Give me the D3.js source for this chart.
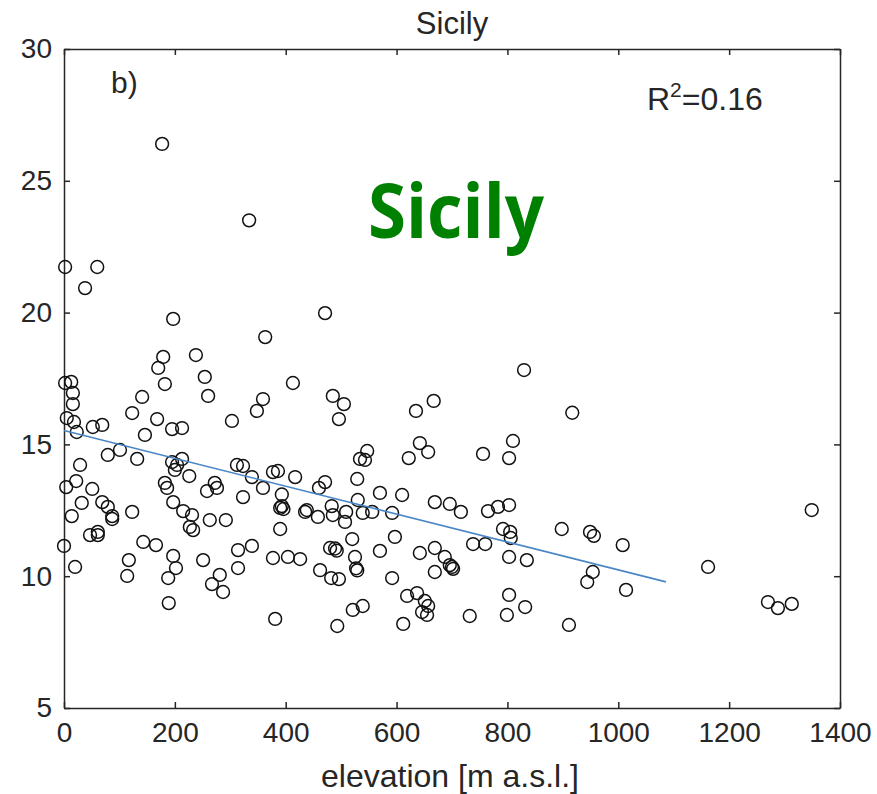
<!DOCTYPE html>
<html>
<head>
<meta charset="utf-8">
<script src="https://cdn.jsdelivr.net/npm/d3@7"></script>
<style>
  body { margin: 0; background: #fff; }
  text { font-family: "Liberation Sans", Arial, sans-serif; fill: #262626; }
</style>
</head>
<body>
<script>
const elevation = [
  2, 60, 38, 197, 179, 170, 238, 254, 260, 182, 2, 13, 16, 16, 141, 123, 168, 195, 213, 303,
  5, 18, 23, 52, 69, 146, 177, 334, 471, 363, 413, 359, 348, 485, 505, 496, 635, 667, 642, 657,
  622, 547, 534, 543, 323, 339, 377, 386, 417, 471, 460, 529, 359, 323, 393, 570, 610, 101, 79, 132,
  29, 22, 4, 51, 32, 69, 79, 87, 87, 14, 123, 47, 61, 61, 0, 20, 143, 166, 117, 114,
  197, 202, 188, 251, 189, 195, 204, 200, 213, 226, 182, 186, 197, 215, 231, 227, 233, 263, 292, 258,
  272, 276, 312, 314, 339, 314, 281, 267, 287, 390, 393, 396, 435, 438, 458, 483, 485, 509, 507, 530,
  539, 556, 592, 669, 390, 520, 597, 480, 489, 492, 570, 642, 669, 377, 404, 426, 525, 527, 529, 462,
  482, 496, 592, 669, 619, 637, 651, 657, 646, 655, 521, 539, 381, 493, 612, 810, 756, 803, 696, 716,
  765, 783, 803, 792, 805, 806, 898, 949, 956, 738, 760, 687, 696, 700, 702, 803, 835, 1008, 954, 944,
  1014, 803, 832, 799, 732, 911, 1349, 1162, 1270, 1288, 1313, 830, 917
];
const values = [
  21.73, 21.73, 20.93, 19.76, 18.32, 17.9, 18.39, 17.56, 16.84, 17.29, 17.33, 17.37, 16.95, 16.53, 16.8, 16.19, 15.96, 15.58, 15.62, 15.89,
  16.0, 15.85, 15.47, 15.66, 15.74, 15.36, 26.4, 23.5, 19.98, 19.07, 17.33, 16.72, 16.27, 16.84, 16.53, 15.96, 16.27, 16.65, 15.05, 14.71,
  14.48, 14.75, 14.45, 14.41, 14.18, 13.76, 13.95, 13.99, 13.76, 13.57, 13.35, 13.69, 13.35, 13.0, 13.1, 13.16, 13.08, 14.79, 14.6, 14.45,
  14.22, 13.61, 13.38, 13.31, 12.78, 12.81, 12.63, 12.28, 12.17, 12.28, 12.44, 11.56, 11.68, 11.56, 11.15, 10.35, 11.3, 11.18, 10.61, 10.01,
  10.77, 10.31, 9.93, 10.61, 8.98, 14.33, 14.22, 14.03, 14.45, 13.8, 13.54, 13.35, 12.81, 12.47, 12.32, 11.87, 11.75, 12.13, 12.13, 13.23,
  13.54, 13.35, 14.22, 10.99, 11.15, 10.31, 10.05, 9.7, 9.4, 12.59, 12.66, 12.55, 12.44, 12.51, 12.25, 12.66, 12.32, 12.44, 12.06, 12.89,
  12.4, 12.44, 12.4, 12.81, 11.79, 11.41, 11.49, 11.07, 11.05, 10.97, 10.96, 10.88, 11.07, 10.69, 10.73, 10.65, 10.73, 10.3, 10.22, 10.23,
  9.93, 9.89, 9.93, 10.16, 9.25, 9.36, 9.06, 8.87, 8.64, 8.53, 8.72, 8.87, 8.38, 8.11, 8.19, 15.13, 14.64, 14.48, 12.74, 12.44,
  12.47, 12.63, 12.7, 11.79, 11.68, 11.45, 11.79, 11.68, 11.53, 11.22, 11.22, 10.73, 10.42, 10.35, 10.28, 10.73, 10.61, 11.18, 10.16, 9.78,
  9.48, 9.29, 8.83, 8.53, 8.49, 8.15, 12.51, 10.35, 9.02, 8.79, 8.95, 17.82, 16.2
];

// linear fit shown in the figure
const fitIntercept = 15.53;
const fitSlope = -0.00529;
const fitRange = [0, 1086];

const xTicks = [0, 200, 400, 600, 800, 1000, 1200, 1400];
const yTicks = [5, 10, 15, 20, 25, 30];

const width = 877, height = 794;
const margin = { top: 49, right: 37, bottom: 86, left: 64 };

const svg = d3.select("body").append("svg")
    .attr("width", width)
    .attr("height", height);

const x = d3.scaleLinear().domain([0, 1400]).range([margin.left, width - margin.right]);
const y = d3.scaleLinear().domain([5, 30]).range([height - margin.bottom, margin.top]);

// axes: MATLAB style, ticks pointing inside, box on all four sides
function styleAxis(g) {
    g.select(".domain").attr("stroke", "#262626").attr("stroke-width", 1.5);
    g.selectAll(".tick line").attr("stroke", "#262626").attr("stroke-width", 1.5);
    g.selectAll(".tick text").style("font-size", "28px").attr("fill", "#262626");
}

svg.append("g")
    .attr("transform", `translate(0,${y(5)})`)
    .call(d3.axisBottom(x).tickValues(xTicks).tickFormat(d3.format("d"))
        .tickSize(-6).tickSizeOuter(0).tickPadding(14))
    .call(styleAxis);

svg.append("g")
    .attr("transform", `translate(0,${y(30)})`)
    .call(d3.axisTop(x).tickValues(xTicks).tickSize(-6).tickSizeOuter(0).tickFormat(""))
    .call(styleAxis);

svg.append("g")
    .attr("transform", `translate(${x(0)},0)`)
    .call(d3.axisLeft(y).tickValues(yTicks).tickSize(-6).tickSizeOuter(0).tickPadding(12))
    .call(styleAxis);

svg.append("g")
    .attr("transform", `translate(${x(1400)},0)`)
    .call(d3.axisRight(y).tickValues(yTicks).tickSize(-6).tickSizeOuter(0).tickFormat(""))
    .call(styleAxis);

// scatter points
const points = elevation.map((e, i) => ({ e: e, v: values[i] }));
svg.append("g")
    .selectAll("circle")
    .data(points)
    .join("circle")
    .attr("cx", d => x(d.e))
    .attr("cy", d => y(d.v))
    .attr("r", 6.4)
    .attr("fill", "none")
    .attr("stroke", "#111")
    .attr("stroke-width", 1.5);

// regression line
svg.append("line")
    .attr("x1", x(fitRange[0]))
    .attr("y1", y(fitIntercept + fitSlope * fitRange[0]))
    .attr("x2", x(fitRange[1]))
    .attr("y2", y(fitIntercept + fitSlope * fitRange[1]))
    .attr("stroke", "#4a86c5")
    .attr("stroke-width", 1.6);

// texts
svg.append("text")
    .attr("x", 452).attr("y", 34)
    .attr("text-anchor", "middle")
    .style("font-size", "31px")
    .text("Sicily");

svg.append("text")
    .attr("x", 450).attr("y", 787)
    .attr("text-anchor", "middle")
    .style("font-size", "32px")
    .text("elevation [m a.s.l.]");

svg.append("text")
    .attr("x", 111).attr("y", 93)
    .style("font-size", "30px")
    .text("b)");

const r2 = svg.append("text")
    .attr("x", 647).attr("y", 110)
    .style("font-size", "32px");
r2.append("tspan").text("R");
r2.append("tspan").attr("dy", -13).style("font-size", "21px").text("2");
r2.append("tspan").attr("dy", 13).text("=0.16");

svg.append("text")
    .attr("x", 368).attr("y", 238)
    .attr("textLength", 176)
    .attr("lengthAdjust", "spacingAndGlyphs")
    .style("font-family", "'Open Sans', sans-serif")
    .style("font-weight", "bold")
    .style("font-size", "75px")
    .style("fill", "#008000")
    .text("Sicily");
</script>
</body>
</html>
